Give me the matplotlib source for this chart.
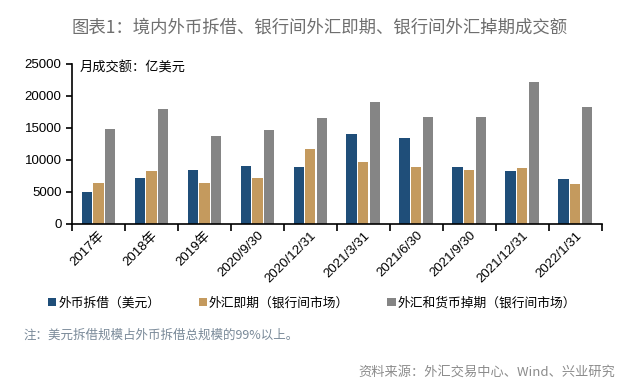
import numpy as np
import matplotlib.pyplot as plt

plt.rcParams['font.family'] = ['Noto Sans CJK SC', 'DejaVu Sans']
num_font = ['Liberation Sans', 'Noto Sans CJK SC']

# 数据（亿美元）
categories = ['2017年', '2018年', '2019年', '2020/9/30', '2020/12/31',
              '2021/3/31', '2021/6/30', '2021/9/30', '2021/12/31', '2022/1/31']
fx_lending = [5000, 7150, 8400, 9100, 8900, 14000, 13400, 8900, 8200, 7000]
fx_spot = [6400, 8200, 6400, 7150, 11750, 9600, 8900, 8400, 8800, 6250]
fx_swap = [14900, 17950, 13700, 14600, 16550, 19050, 16700, 16700, 22200, 18300]
series_names = ['外币拆借（美元）', '外汇即期（银行间市场）', '外汇和货币掉期（银行间市场）']
colors = ['#1f4e79', '#c49a5e', '#858585']

fig = plt.figure(figsize=(6.4, 3.92), dpi=100)
ax = fig.add_axes([0.1125, 0.429, 0.828, 0.408])

x = np.arange(len(categories))
w = 0.19
step = 0.225
for i, (vals, name, c) in enumerate(zip([fx_lending, fx_spot, fx_swap], series_names, colors)):
    ax.bar(x + (i - 1) * step, vals, width=w, color=c, label=name)

ax.set_xlim(-0.5, len(categories) - 0.5)
ax.set_ylim(0, 25000)
ax.set_yticks(range(0, 25001, 5000))
ax.set_xticks(x)
ax.set_xticklabels(categories, rotation=45, ha='right', rotation_mode='anchor',
                   fontsize=9.5, family=num_font)
ax.set_xticks(np.arange(-0.5, len(categories), 1), minor=True)
ax.tick_params(axis='x', which='major', length=0, pad=4)
ax.tick_params(axis='x', which='minor', length=5, width=1.2, direction='out')
ax.tick_params(axis='y', length=4, width=1.2)
for lab in ax.get_yticklabels():
    lab.set_family(num_font)
    lab.set_fontsize(9.5)
for s in ['top', 'right']:
    ax.spines[s].set_visible(False)
for s in ['left', 'bottom']:
    ax.spines[s].set_linewidth(1.2)

ax.text(0.015, 0.975, '月成交额：亿美元', transform=ax.transAxes, fontsize=9.5,
        va='center', ha='left', style='italic')

fig.text(0.5, 0.929, '图表1：境内外币拆借、银行间外汇即期、银行间外汇掉期成交额',
         ha='center', va='center', fontsize=12.5, color='#6e6e6e')

leg = fig.legend(loc='center left', bbox_to_anchor=(0.075, 0.227), ncol=3, frameon=False,
                 fontsize=9.2, handlelength=0.65, handleheight=0.65, handletextpad=0.15,
                 columnspacing=3.0, borderaxespad=0, borderpad=0)

fig.text(0.036, 0.145, '注：美元拆借规模占外币拆借总规模的99%以上。',
         fontsize=9, color='#7a8a99', ha='left', va='center')
fig.text(0.962, 0.051, '资料来源：外汇交易中心、Wind、兴业研究',
         fontsize=9.5, color='#8c8c8c', ha='right', va='center')

fig.savefig('out.png', dpi=100)
